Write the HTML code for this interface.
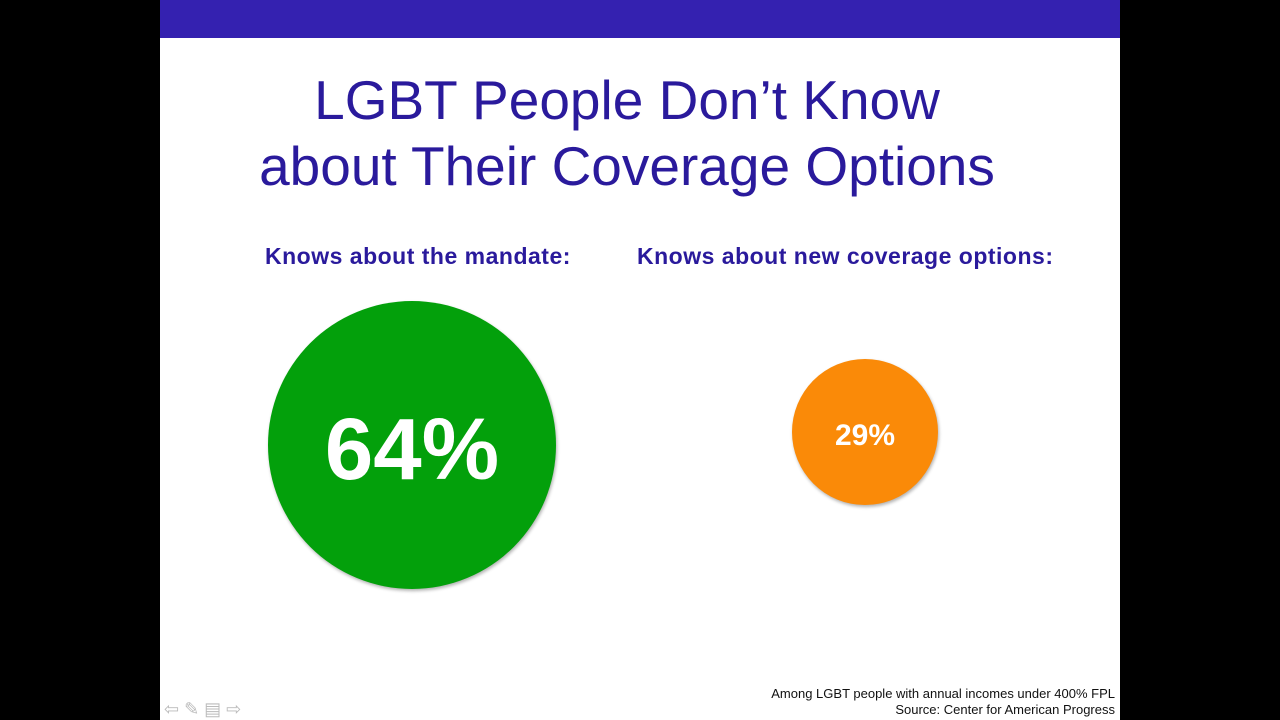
<!DOCTYPE html>
<html><head><style>
body{margin:0;width:1280px;height:720px;background:#000;overflow:hidden;font-family:"Liberation Sans",sans-serif}
.s{position:absolute;left:160px;top:0;width:960px;height:720px;background:#fff}
.bar{position:absolute;left:0;top:0;width:960px;height:38px;background:#3421b0}
.t{position:absolute;left:0;width:934px;text-align:center;color:#2a1a9c;font-size:55px;white-space:nowrap}
.h{position:absolute;color:#2a1a9c;font-weight:bold;font-size:23px;letter-spacing:0.5px;white-space:nowrap}
.c{position:absolute;border-radius:50%;color:#fff;font-weight:bold;display:flex;align-items:center;justify-content:center;box-shadow:1px 2px 3px rgba(0,0,0,.3);box-sizing:border-box}
.f{position:absolute;right:5px;text-align:right;font-size:13px;color:#111;line-height:16px}
</style></head><body>
<div class="s">
<div class="bar"></div>
<div class="t" style="top:68px">LGBT People Don’t Know</div>
<div class="t" style="top:134px">about Their Coverage Options</div>
<div class="h" style="left:105px;top:243px">Knows about the mandate:</div>
<div class="h" style="left:477px;top:243px">Knows about new coverage options:</div>
<div class="c" style="left:108px;top:301px;width:288px;height:288px;background:#03a00b;font-size:87px;padding-top:10px">64%</div>
<div class="c" style="left:632px;top:359px;width:146px;height:146px;background:#fa8a08;font-size:30px;padding-top:8px">29%</div>
<div class="f" style="top:686px">Among LGBT people with annual incomes under 400% FPL<br>Source: Center for American Progress</div>
<div style="position:absolute;left:4px;top:699px;color:#bbb;font-size:18px">⇦ ✎ ▤ ⇨</div>
</div>
</body></html>
